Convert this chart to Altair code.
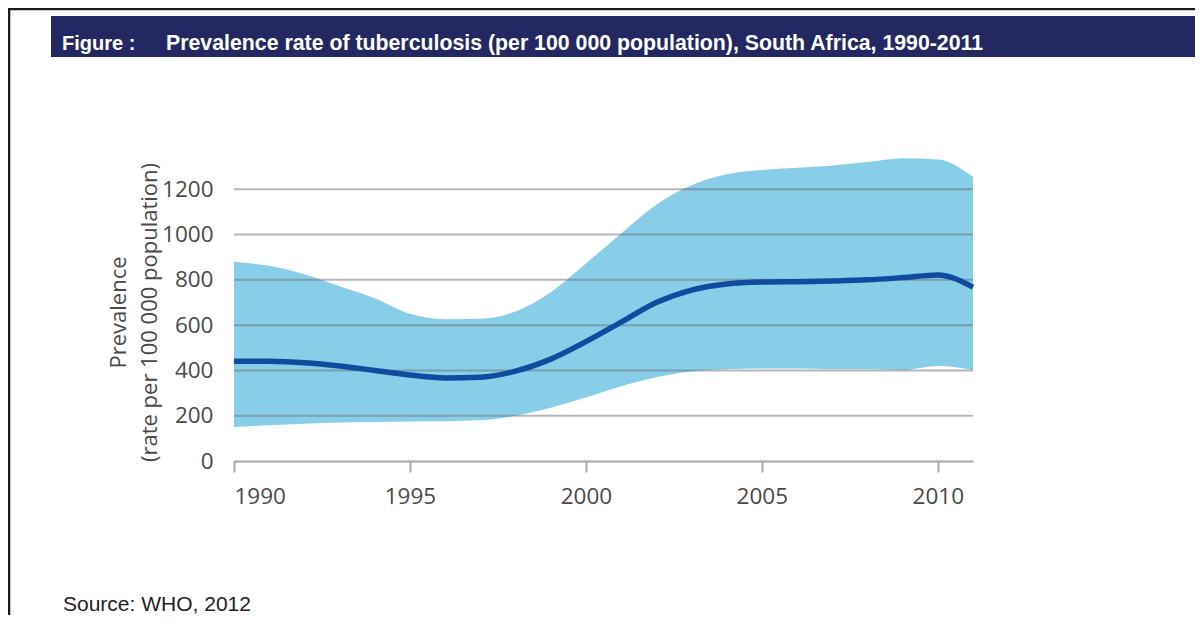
import altair as alt
import pandas as pd

years = list(range(1990, 2012))
mid = [441, 440, 434, 420, 400, 380, 367, 370, 397, 450, 527, 613, 700, 755, 782, 790, 792, 795, 800, 810, 822, 768]
high = [880, 862, 825, 772, 719, 650, 626, 628, 660, 745, 872, 1005, 1132, 1218, 1266, 1285, 1295, 1305, 1320, 1337, 1332, 1255]
low = [150, 158, 165, 170, 172, 175, 176, 180, 200, 235, 280, 330, 370, 395, 405, 408, 408, 405, 405, 402, 420, 402]
grid_vals = [200, 400, 600, 800, 1000, 1200]
y_ticks = [0, 200, 400, 600, 800, 1000, 1200]
x_ticks = [1990, 1995, 2000, 2005, 2010]

title_fig = "Figure :"
title_main = "Prevalence rate of tuberculosis (per 100 000 population), South Africa, 1990-2011"
source_txt = "Source: WHO, 2012"
y_title = ["Prevalence", "(rate per 100 000 population)"]

df = pd.DataFrame({"year": years, "mid": mid, "high": high, "low": low})
gdf = pd.DataFrame({"v": grid_vals, "x0": [1990] * len(grid_vals), "x1": [2011] * len(grid_vals)})

W, H = 739, 317
FONT = "Open Sans"
LBL = "#4a4a4a"

xs = alt.Scale(domain=[1990, 2011], nice=False, zero=False)
ys = alt.Scale(domain=[0, 1400], nice=False)

band = alt.Chart(df).mark_area(color="#88CEE8", interpolate="monotone", opacity=1).encode(
    x=alt.X("year:Q", scale=xs, axis=alt.Axis(values=x_ticks, format="d", grid=False, domainColor="#a8a8a8",
                                               domainWidth=2, tickColor="#a8a8a8", tickWidth=2, tickSize=11,
                                               labelPadding=13, labelFont=FONT, labelFontSize=22.5, labelColor=LBL,
                                               title=None)),
    y=alt.Y("low:Q", scale=ys, axis=alt.Axis(values=y_ticks, format="d", grid=False, domain=False, ticks=False,
                                              tickSize=0, labelPadding=21, labelFont=FONT, labelFontSize=22.5,
                                              labelColor=LBL, title=None)),
    y2="high:Q",
)

grid = alt.Chart(gdf).mark_rule(color="#6e6e6e", strokeWidth=2, opacity=0.5).encode(
    x=alt.X("x0:Q", scale=xs), x2="x1:Q", y=alt.Y("v:Q", scale=ys)
)

line = alt.Chart(df).mark_line(color="#0F4C9F", strokeWidth=5.5, interpolate="monotone").encode(
    x=alt.X("year:Q", scale=xs), y=alt.Y("mid:Q", scale=ys)
)

one = pd.DataFrame({"a": [0]})

bar = alt.Chart(one).mark_rect(color="#242862").encode(
    x=alt.value(-183), x2=alt.value(969), y=alt.value(-128), y2=alt.value(-87)
)
t1 = alt.Chart(one).mark_text(text=title_fig, color="white", font="Liberation Sans", fontWeight="bold",
                              fontSize=20, align="left", baseline="alphabetic").encode(
    x=alt.value(-172), y=alt.value(-94)
)
t2 = alt.Chart(one).mark_text(text=title_main, color="white", font="Liberation Sans", fontWeight="bold",
                              fontSize=21.3, align="left", baseline="alphabetic").encode(
    x=alt.value(-68), y=alt.value(-94)
)
src = alt.Chart(one).mark_text(text=source_txt, color="#222222", font="Liberation Sans",
                               fontSize=21, align="left", baseline="alphabetic").encode(
    x=alt.value(-171), y=alt.value(467)
)
ytitle = alt.Chart(one).mark_text(text=y_title, color=LBL, font=FONT, fontSize=22, angle=270,
                                  align="center", baseline="middle", lineHeight=31).encode(
    x=alt.value(-115.5), y=alt.value(168.5)
)
frame_top = alt.Chart(one).mark_rule(color="#1a1a1a", strokeWidth=2.5).encode(
    x=alt.value(-226), x2=alt.value(969), y=alt.value(-135)
)
frame_left = alt.Chart(one).mark_rule(color="#1a1a1a", strokeWidth=2.5).encode(
    x=alt.value(-225), y=alt.value(-136), y2=alt.value(480)
)

chart = alt.layer(band, grid, line, bar, t1, t2, src, ytitle, frame_top, frame_left).properties(
    width=W, height=H,
    autosize=alt.AutoSizeParams(type="none"),
    padding={"left": 226, "top": 136, "right": 222, "bottom": 154},
).configure_view(stroke=None)

chart.save("out.html", embed_options={"renderer": "svg", "actions": False})
